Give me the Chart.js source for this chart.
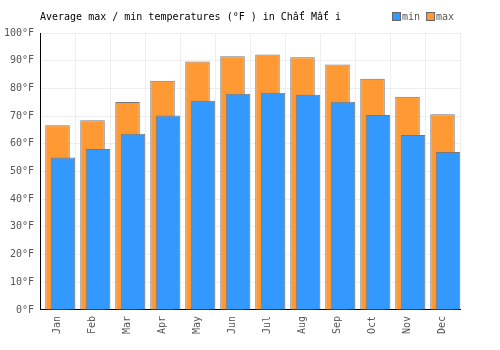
<!DOCTYPE html>
<html>
<head>
<meta charset="utf-8">
<script src="https://cdn.jsdelivr.net/npm/chart.js@4/dist/chart.umd.min.js"></script>
<style>
html,body{margin:0;padding:0;background:#fff;}
#wrap{width:500px;height:350px;}
</style>
</head>
<body>
<div id="wrap"><canvas id="c" width="500" height="350"></canvas></div>
<script>
const months = ["Jan","Feb","Mar","Apr","May","Jun","Jul","Aug","Sep","Oct","Nov","Dec"];
const minTemps = [55.0, 58.1, 63.6, 70.2, 75.5, 78.1, 78.4, 77.7, 75.2, 70.4, 63.2, 57.0];
const maxTemps = [66.7, 68.5, 75.1, 82.8, 89.7, 91.6, 92.2, 91.2, 88.6, 83.5, 77.0, 70.7];
const yTicks = [0,10,20,30,40,50,60,70,80,90,100];
const titleText = "Average max / min temperatures (°F ) in Chấť Mấť i";
const seriesNames = ["min", "max"];
const seriesColors = ["#3399ff", "#ff9933"];

const FONT = "'DejaVu Sans Mono', monospace";
const shift = 0.157;

const headerPlugin = {
  id: 'header',
  afterDraw(chart) {
    const ctx = chart.ctx;
    ctx.save();
    ctx.font = "10px " + FONT;
    ctx.textBaseline = "middle";
    ctx.textAlign = "left";
    ctx.fillStyle = "#000";
    ctx.fillText(titleText, 40, 17);
    let x = 392;
    seriesNames.forEach((name, i) => {
      ctx.fillStyle = seriesColors[i];
      ctx.fillRect(x + 0.5, 12.5, 8, 8);
      ctx.strokeStyle = "#666";
      ctx.lineWidth = 1;
      ctx.strokeRect(x + 0.5, 12.5, 8, 8);
      ctx.fillStyle = "#555";
      ctx.fillText(name, x + 10, 17);
      x += 10 + ctx.measureText(name).width + 6;
    });
    ctx.restore();
  }
};

new Chart(document.getElementById('c'), {
  type: 'bar',
  data: {
    labels: months,
    datasets: [
      {
        label: seriesNames[0],
        data: minTemps.map((v, i) => ({x: i, y: v})),
        xAxisID: 'x2',
        backgroundColor: seriesColors[0],
        borderColor: '#777777',
        borderWidth: 1,
        grouped: false,
        barPercentage: 0.7,
        categoryPercentage: 1
      },
      {
        label: seriesNames[1],
        data: maxTemps,
        xAxisID: 'x',
        backgroundColor: seriesColors[1],
        borderColor: '#777777',
        borderWidth: 1,
        grouped: false,
        barPercentage: 0.7,
        categoryPercentage: 1
      }
    ]
  },
  options: {
    responsive: false,
    animation: false,
    layout: { padding: { left: 0, right: 40, top: 33, bottom: 10 } },
    plugins: {
      title: { display: false },
      tooltip: { enabled: false },
      legend: { display: false }
    },
    scales: {
      x: {
        type: 'category',
        offset: true,
        grid: { offset: true, color: '#eeeeee', drawTicks: false },
        border: { color: '#000', width: 1 },
        ticks: {
          color: '#555',
          font: { family: FONT, size: 10 },
          minRotation: 90,
          maxRotation: 90,
          padding: 6
        }
      },
      x2: {
        type: 'linear',
        display: false,
        offset: false,
        min: -0.5 - shift,
        max: 11.5 - shift,
        grid: { offset: false }
      },
      y: {
        min: 0,
        max: 100,
        afterBuildTicks(axis) { axis.ticks = yTicks.map(v => ({value: v})); },
        afterFit(axis) { axis.width = 40; },
        grid: { color: '#eeeeee', drawTicks: false },
        border: { color: '#000', width: 1 },
        ticks: {
          color: '#555',
          font: { family: FONT, size: 10 },
          padding: 6,
          callback: v => v + '°F'
        }
      }
    }
  },
  plugins: [headerPlugin]
});
</script>
</body>
</html>
